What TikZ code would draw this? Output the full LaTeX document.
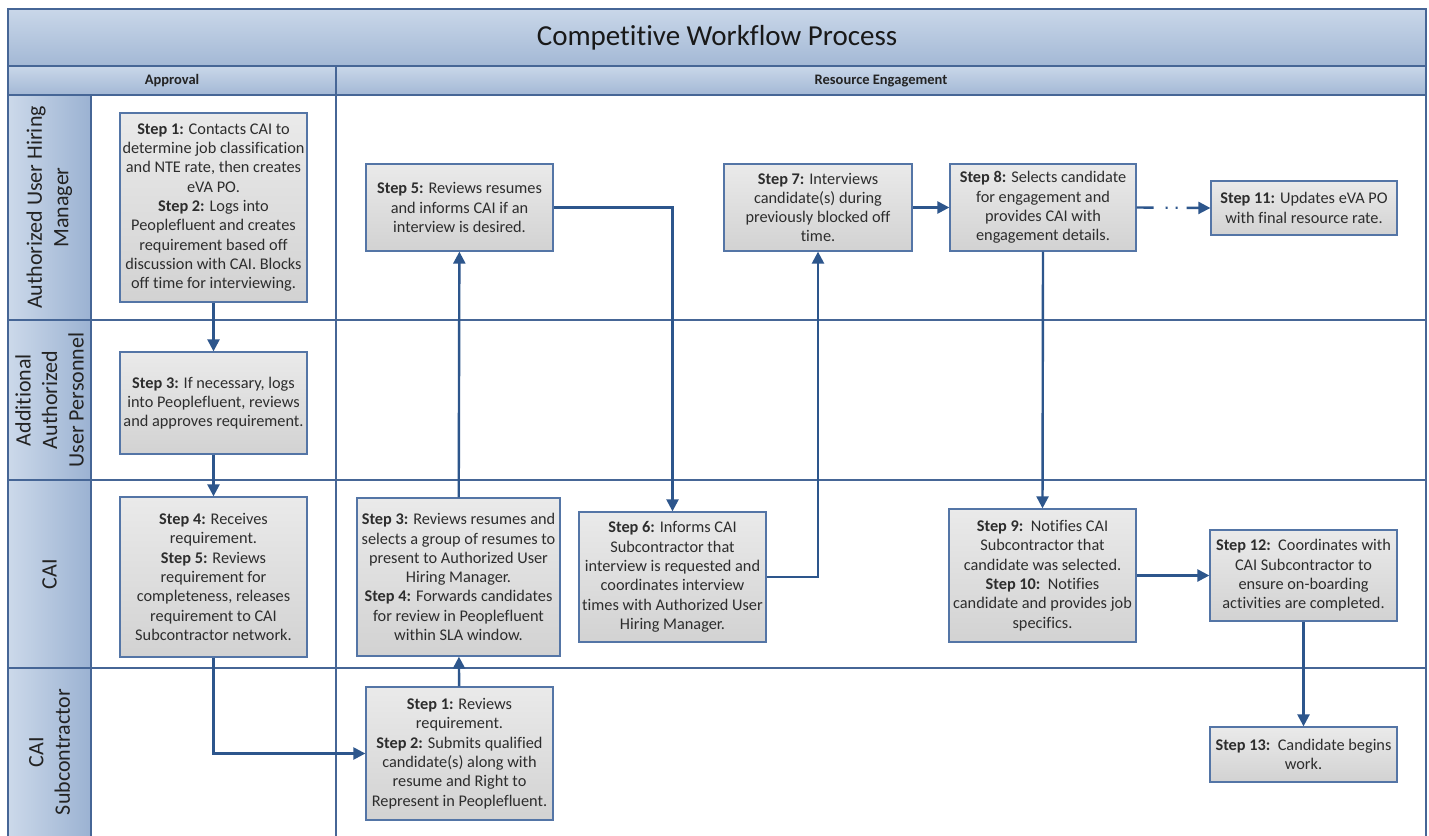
\documentclass[tikz,border=0pt]{standalone}
\usepackage{fontspec}
\setmainfont{Carlito}[RawFeature={-liga}]
\usetikzlibrary{arrows.meta}
\definecolor{framecol}{RGB}{70,102,150}
\definecolor{arrowcol}{RGB}{45,86,140}
\definecolor{boxborder}{RGB}{84,117,166}
\definecolor{boxtop}{RGB}{234,234,234}
\definecolor{boxbot}{RGB}{210,210,210}
\definecolor{bandtop}{RGB}{201,215,233}
\definecolor{bandbot}{RGB}{163,184,213}
\definecolor{lanelight}{RGB}{204,217,234}
\definecolor{lanedark}{RGB}{155,178,210}
\definecolor{textcol}{RGB}{45,45,45}
\definecolor{labelcol}{RGB}{35,35,35}
\tikzset{
  stepbox/.style={draw=boxborder, line width=1.3pt, top color=boxtop, bottom color=boxbot,
    inner sep=0pt, align=center, text=textcol, font=\fontsize{16.3}{19.3}\selectfont},
  flow/.style={draw=arrowcol, line width=2.4pt, -{Triangle[length=12pt,width=12pt]}},
  frameline/.style={draw=framecol, line width=1.5pt},
  lanelabel/.style={rotate=90, align=center, text=labelcol, font=\fontsize{22}{26.5}\selectfont},
  hdr/.style={text=labelcol, font=\fontsize{14.5}{17}\selectfont\bfseries}
}
\begin{document}
\begin{tikzpicture}[x=1pt,y=1pt]
\useasboundingbox (0,0) rectangle (1429,-835);
\fill[white] (0,0) rectangle (1429,-835);
% title and header bands
\shade[top color=bandtop, bottom color=bandbot] (8,-9) rectangle (1426,-66);
\shade[top color=bandtop, bottom color=bandbot] (8,-66) rectangle (1426,-95);
% lane label column
\shade[left color=lanelight, right color=lanedark] (8,-95) rectangle (91,-835);
% frame lines
\draw[frameline] (8,-836) -- (8,-9) -- (1426,-9) -- (1426,-836);
\draw[frameline] (8,-66) -- (1426,-66);
\draw[frameline] (8,-95) -- (1426,-95);
\draw[frameline] (336,-66) -- (336,-836);
\draw[frameline] (91,-95) -- (91,-836);
\draw[frameline] (8,-320) -- (1426,-320);
\draw[frameline] (8,-480) -- (1426,-480);
\draw[frameline] (8,-668) -- (1426,-668);

\node[text=black!90, font=\fontsize{29}{33}\selectfont] (title) at (717,-38) {Competitive Workflow Process};
\node[hdr] (hdrA) at (172,-81) {Approval};
\node[hdr] (hdrR) at (881,-81) {Resource Engagement};

\node[lanelabel] (laneHM) at (49.5,-207.5) {Authorized User Hiring\\Manager};
\node[lanelabel] (laneAP) at (49.5,-400) {Additional\\Authorized\\User Personnel};
\node[lanelabel] (laneCAI) at (49.5,-574) {CAI};
\node[lanelabel] (laneSub) at (49.5,-752) {CAI\\Subcontractor};

% boxes
\node[stepbox, minimum width=187pt, minimum height=189pt] (s12a) at (213.5,-207.5)
 {\textbf{Step 1:} Contacts CAI to\\determine job classification\\and NTE rate, then creates\\eVA PO.\\\textbf{Step 2:} Logs into\\Peoplefluent and creates\\requirement based off\\discussion with CAI. Blocks\\off time for interviewing.};
\node[stepbox, minimum width=187pt, minimum height=102pt] (s3a) at (213.5,-403)
 {\textbf{Step 3:} If necessary, logs\\into Peoplefluent, reviews\\and approves requirement.};
\node[stepbox, minimum width=187pt, minimum height=160pt] (s45a) at (213.5,-577)
 {\textbf{Step 4:} Receives\\requirement.\\\textbf{Step 5:} Reviews\\requirement for\\completeness, releases\\requirement to CAI\\Subcontractor network.};
\node[stepbox, minimum width=187pt, minimum height=133pt] (sub12) at (459.5,-753.5)
 {\textbf{Step 1:} Reviews\\requirement.\\\textbf{Step 2:} Submits qualified\\candidate(s) along with\\resume and Right to\\Represent in Peoplefluent.};
\node[stepbox, minimum width=203pt, minimum height=158pt] (cai34) at (458.5,-577)
 {\textbf{Step 3:} Reviews resumes and\\selects a group of resumes to\\present to Authorized User\\Hiring Manager.\\\textbf{Step 4:} Forwards candidates\\for review in Peoplefluent\\within SLA window.};
\node[stepbox, minimum width=187pt, minimum height=87pt] (hm5) at (459.5,-207.5)
 {\textbf{Step 5:} Reviews resumes\\and informs CAI if an\\interview is desired.};
\node[stepbox, minimum width=187pt, minimum height=130pt] (cai6) at (672.5,-577)
 {\textbf{Step 6:} Informs CAI\\Subcontractor that\\interview is requested and\\coordinates interview\\times with Authorized User\\Hiring Manager.};
\node[stepbox, minimum width=188pt, minimum height=87pt] (hm7) at (818,-207.5)
 {\textbf{Step 7:} Interviews\\candidate(s) during\\previously blocked off\\time.};
\node[stepbox, minimum width=186pt, minimum height=87pt] (hm8) at (1043,-207.5)
 {\textbf{Step 8:} Selects candidate\\for engagement and\\provides CAI with\\engagement details.};
\node[stepbox, minimum width=186pt, minimum height=54pt] (hm11) at (1304,-208)
 {\textbf{Step 11:} Updates eVA PO\\with final resource rate.};
\node[stepbox, minimum width=187pt, minimum height=133pt] (cai9) at (1042.5,-575.5)
 {\textbf{Step 9:}\ \ Notifies CAI\\Subcontractor that\\candidate was selected.\\\textbf{Step 10:}\ \ Notifies\\candidate and provides job\\specifics.};
\node[stepbox, minimum width=187pt, minimum height=91pt] (cai12) at (1303.5,-575.5)
 {\textbf{Step 12:}\ \ Coordinates with\\CAI Subcontractor to\\ensure on-boarding\\activities are completed.};
\node[stepbox, minimum width=187pt, minimum height=55pt] (sub13) at (1303.5,-754.5)
 {\textbf{Step 13:}\ \ Candidate begins\\work.};

% connectors
\draw[flow] (s12a) -- (s3a);
\draw[flow] (s3a) -- (s45a);
\draw[flow] (s45a.south) |- (sub12.west);
\draw[flow] (sub12) -- (cai34);
\draw[flow] (cai34) -- (hm5);
\draw[flow] (hm5.east) -| (cai6.north);
\draw[flow] (cai6.east) -| (hm7.south);
\draw[flow] (hm7) -- (hm8);
\draw[flow, dash pattern=on 17pt off 12pt on 2pt off 8pt on 2pt off 9pt on 40pt off 1pt] (hm8.east) -- (hm11.west);
\draw[flow] (hm8.south) -- (cai9.north);
\draw[flow] (cai9) -- (cai12);
\draw[flow] (cai12) -- (sub13);
\end{tikzpicture}
\end{document}
